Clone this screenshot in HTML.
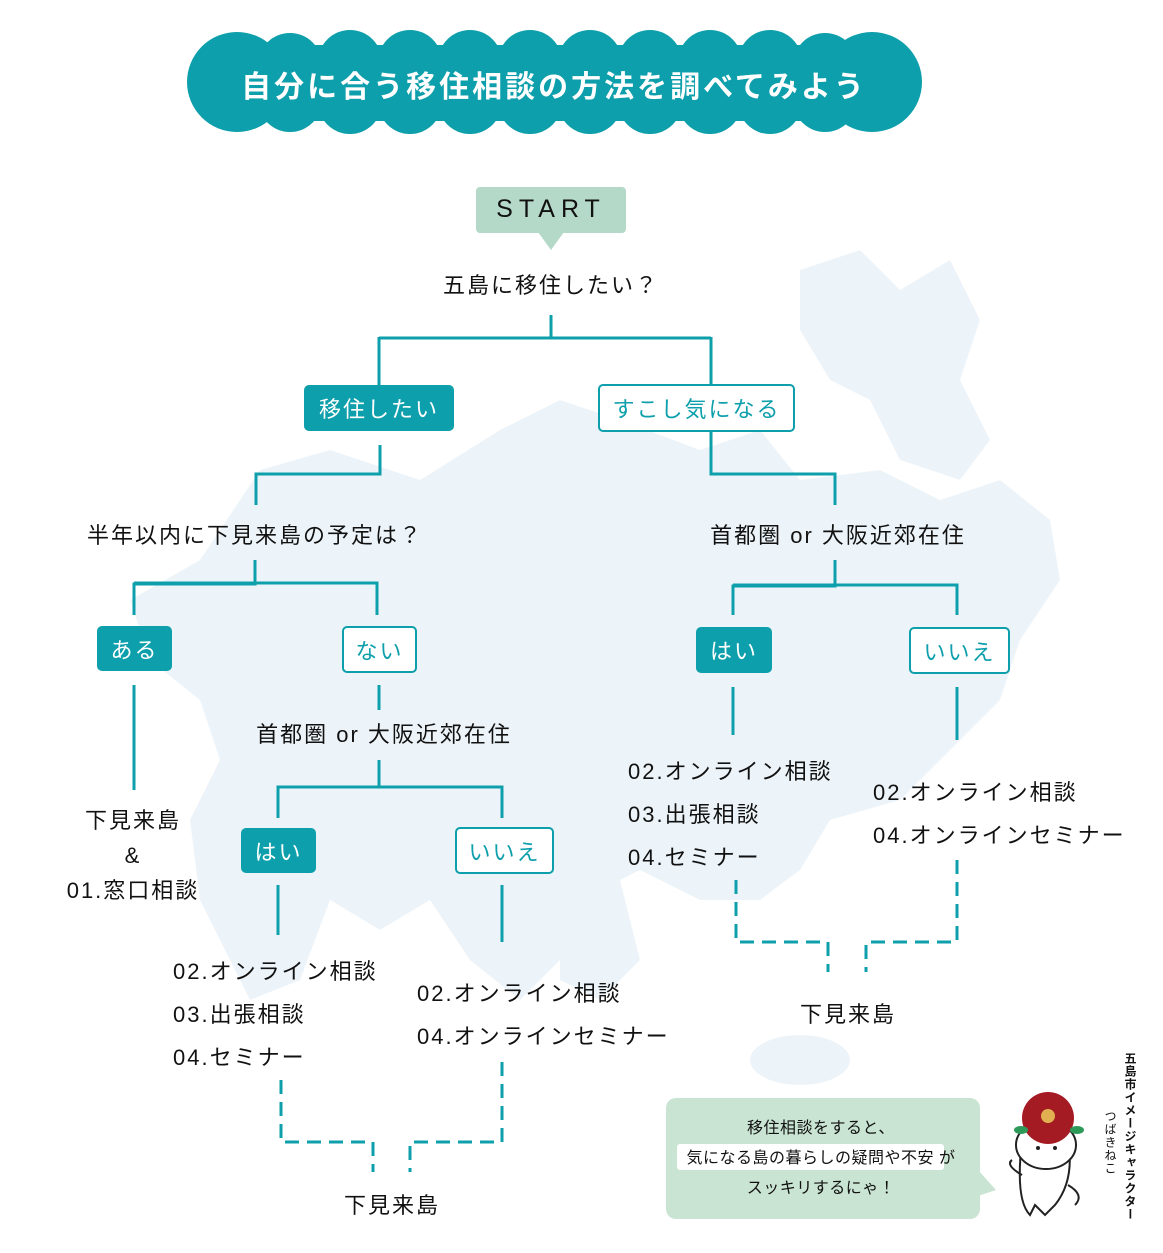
<!DOCTYPE html>
<html><head><meta charset="utf-8">
<style>
body{margin:0;width:1163px;height:1253px;background:#fff;position:relative;overflow:hidden;font-family:"Liberation Sans","Noto Sans CJK JP",sans-serif;color:#111}
.t{position:absolute;font-size:22px;white-space:nowrap;letter-spacing:2px}
.c{transform:translateX(-50%)}
.bx{position:absolute;box-sizing:border-box;border-radius:5px;font-size:22px;display:flex;align-items:center;justify-content:center;letter-spacing:2px}
.f{background:#0d9fab;color:#fff}
.o{background:#fff;border:2.5px solid #0d9fab;color:#0d9fab}
svg{position:absolute;left:0;top:0}
</style></head><body>
<svg width="1163" height="1253">
<g fill="#edf4f9">
<path d="M130 600 L200 560 L260 470 L330 450 L420 480 L500 430 L560 400 L620 420 L700 450 L760 430 L800 480 L880 470 L940 500 L1000 480 L1050 520 L1060 580 L1020 640 L1000 700 L940 760 L900 800 L830 820 L800 870 L760 900 L700 900 L640 870 L580 900 L560 960 L520 1000 L470 960 L430 900 L380 930 L330 900 L300 980 L250 1000 L230 960 L200 900 L190 820 L220 760 L200 700 L150 660 Z"/>
<path d="M800 270 L860 250 L900 290 L950 260 L980 320 L960 380 L990 440 L960 480 L900 460 L870 400 L830 380 L800 330 Z"/>
<path d="M560 880 L620 880 L640 960 L600 1000 L560 980 Z"/>
<ellipse cx="800" cy="1060" rx="50" ry="25"/>
</g>
<g fill="#0d9fab">
<rect x="200" y="45" width="710" height="76" rx="38"/>
<circle cx="237" cy="82" r="50"/><circle cx="872" cy="82" r="50"/>
<circle cx="290" cy="65" r="32"/><circle cx="350" cy="62" r="32"/><circle cx="410" cy="62" r="32"/><circle cx="470" cy="62" r="32"/><circle cx="530" cy="62" r="32"/><circle cx="590" cy="62" r="32"/><circle cx="650" cy="62" r="32"/><circle cx="710" cy="62" r="32"/><circle cx="770" cy="62" r="32"/><circle cx="825" cy="65" r="32"/>
<circle cx="290" cy="100" r="32"/><circle cx="350" cy="102" r="32"/><circle cx="410" cy="102" r="32"/><circle cx="470" cy="102" r="32"/><circle cx="530" cy="102" r="32"/><circle cx="590" cy="102" r="32"/><circle cx="650" cy="102" r="32"/><circle cx="710" cy="102" r="32"/><circle cx="770" cy="102" r="32"/><circle cx="825" cy="100" r="32"/>
</g>
<rect x="476" y="187" width="150" height="46" rx="4" fill="#b5d9c8"/>
<polygon points="538,232 564,232 551,250" fill="#b5d9c8"/>
<rect x="666" y="1098" width="314" height="121" rx="10" fill="#c9e4d2"/>
<polygon points="978,1170 978,1196 996,1190" fill="#c9e4d2"/>
<rect x="677" y="1144" width="267" height="26" rx="3" fill="#fff"/>
<g stroke="#0d9fab" stroke-width="3" fill="none">
<path d="M551 315V338M379 338H711M379 337V385M711 337V384"/>
<path d="M380 445V474H256V505M711 432V474H835V505"/>
<path d="M255 560V584H134V615M134 583H377V615M835 560V586H733V615M733 585H957V615"/>
<path d="M134 685V790M379 685V710M379 760V787H278V818M278 787H502V818"/>
<path d="M278 885V935M502 885V942M733 687V735M957 687V740"/>
<g stroke-dasharray="14 8">
<path d="M281 1080V1142H373V1172M502 1062V1142H410V1172"/>
<path d="M736 880V942H828V972M957 860V942H866V972"/>
</g></g>
<g stroke="#222" stroke-width="2" fill="#fff">
<path d="M1022 1140 Q1015 1200 1030 1215 L1035 1205 L1045 1215 L1055 1205 Q1075 1180 1068 1140 Z"/>
<ellipse cx="1046" cy="1145" rx="30" ry="24"/>
<path d="M1022 1175 Q1005 1165 1012 1160" fill="none"/>
<path d="M1068 1185 Q1085 1195 1075 1205" fill="none"/>
</g>
<circle cx="1048" cy="1118" r="26" fill="#a51b23"/>
<circle cx="1048" cy="1116" r="7" fill="#e2b050"/>
<ellipse cx="1021" cy="1130" rx="7" ry="4" fill="#2e9a5a"/><ellipse cx="1077" cy="1130" rx="7" ry="4" fill="#2e9a5a"/>
<circle cx="1038" cy="1148" r="2" fill="#222"/><circle cx="1055" cy="1148" r="2" fill="#222"/>
</svg>
<div class="t c" style="left:554px;top:62px;color:#fff;font-size:30px;font-weight:bold;letter-spacing:3px">自分に合う移住相談の方法を調べてみよう</div>
<div class="t c" style="left:551px;top:195px;font-size:25px;letter-spacing:6px">START</div>
<div class="t c" style="left:551px;top:268px">五島に移住したい？</div>
<div class="bx f" style="left:304px;top:385px;width:150px;height:46px">移住したい</div>
<div class="bx o" style="left:598px;top:384px;width:197px;height:48px">すこし気になる</div>
<div class="t c" style="left:255px;top:518px">半年以内に下見来島の予定は？</div>
<div class="t c" style="left:838px;top:518px">首都圏 or 大阪近郊在住</div>
<div class="bx f" style="left:97px;top:626px;width:75px;height:45px">ある</div>
<div class="bx o" style="left:342px;top:626px;width:75px;height:47px">ない</div>
<div class="bx f" style="left:696px;top:627px;width:76px;height:46px">はい</div>
<div class="bx o" style="left:909px;top:627px;width:101px;height:47px">いいえ</div>
<div class="t c" style="left:133px;top:803px;text-align:center;line-height:35px">下見来島<br>&amp;<br>01.窓口相談</div>
<div class="t c" style="left:384px;top:717px">首都圏 or 大阪近郊在住</div>
<div class="bx f" style="left:241px;top:828px;width:75px;height:45px">はい</div>
<div class="bx o" style="left:455px;top:827px;width:99px;height:47px">いいえ</div>
<div class="t" style="left:173px;top:950px;line-height:43px">02.オンライン相談<br>03.出張相談<br>04.セミナー</div>
<div class="t" style="left:417px;top:972px;line-height:43px">02.オンライン相談<br>04.オンラインセミナー</div>
<div class="t c" style="left:392px;top:1188px">下見来島</div>
<div class="t" style="left:628px;top:750px;line-height:43px">02.オンライン相談<br>03.出張相談<br>04.セミナー</div>
<div class="t" style="left:873px;top:771px;line-height:43px">02.オンライン相談<br>04.オンラインセミナー</div>
<div class="t c" style="left:848px;top:997px">下見来島</div>
<div class="t c" style="left:821px;top:1114px;font-size:16px;line-height:30px;text-align:center;letter-spacing:0.5px">移住相談をすると、<br>気になる島の暮らしの疑問や不安 が<br>スッキリするにゃ！</div>
<div style="position:absolute;left:1122px;top:1052px;writing-mode:vertical-rl;font-size:12px;letter-spacing:1px;font-weight:bold">五島市イメージキャラクター</div>
<div style="position:absolute;left:1102px;top:1110px;writing-mode:vertical-rl;font-size:12px;letter-spacing:1px">つばきねこ</div>
</body></html>
